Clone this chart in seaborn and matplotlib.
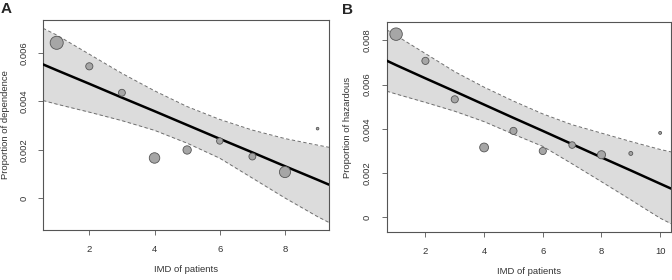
import seaborn as sns
import matplotlib.pyplot as plt
import pandas as pd

# Panel A: dependence
imd_a = [1, 2, 3, 4, 5, 6, 7, 8, 9]
dep_prop = [0.00641, 0.00544, 0.00435, 0.00166, 0.00199, 0.00236, 0.00172, 0.00108, 0.00287]
dep_n = [177, 53, 49, 114, 72, 42, 49, 128, 7]

# fitted line and 95% band for A, read at these IMD positions
grid_a = [0.58, 1, 2, 3, 4, 5, 6, 7, 8, 9, 9.35]
fit_a = [0.00552, 0.00528, 0.00472, 0.00415, 0.00359, 0.00302, 0.00245, 0.00189, 0.00132, 0.00076, 0.00056]
upper_a = [0.00701, 0.00673, 0.00594, 0.00515, 0.00443, 0.00378, 0.00325, 0.00281, 0.00246, 0.00219, 0.00210]
lower_a = [0.00403, 0.00388, 0.00355, 0.00320, 0.00280, 0.00227, 0.00165, 0.00083, 0.00001, -0.00076, -0.00100]

# Panel B: hazardous
imd_b = [1, 2, 3, 4, 5, 6, 7, 8, 9, 10]
haz_prop = [0.00828, 0.00707, 0.00533, 0.00315, 0.00390, 0.00299, 0.00326, 0.00282, 0.00288, 0.00381]
haz_n = [161, 53, 53, 81, 53, 53, 45, 69, 16, 9]

grid_b = [0.68, 1, 2, 3, 4, 5, 6, 7, 8, 9, 10, 10.37]
fit_b = [0.00708, 0.00688, 0.00628, 0.00569, 0.00509, 0.00449, 0.00390, 0.00330, 0.00270, 0.00211, 0.00151, 0.00129]
upper_b = [0.00848, 0.00822, 0.00740, 0.00658, 0.00588, 0.00525, 0.00467, 0.00418, 0.00380, 0.00342, 0.00306, 0.00295]
lower_b = [0.00570, 0.00557, 0.00519, 0.00479, 0.00432, 0.00375, 0.00320, 0.00241, 0.00160, 0.00078, -0.00005, -0.00030]

sns.set_style("white")
plt.rcParams['font.family'] = ['Liberation Sans', 'DejaVu Sans']

fig = plt.figure(figsize=(6.72, 2.8), dpi=100)


def panel(ax, x, y, n, grid, fit, up, lo, xlim, ylim, yticks, xticks, ylabel, ylab_x):
    ax.fill_between(grid, lo, up, color="#dcdcdc", lw=0, zorder=1)
    band = pd.DataFrame({"x": grid, "fit": fit, "up": up, "lo": lo})
    for col in ["up", "lo"]:
        sns.lineplot(data=band, x="x", y=col, ax=ax, color="#6e6e6e", lw=0.7,
                     linestyle=(0, (3.5, 2.5)), zorder=2)
    sns.lineplot(data=band, x="x", y="fit", ax=ax, color="black", lw=1.8, zorder=3)
    pts = pd.DataFrame({"x": x, "y": y, "n": n})
    sns.scatterplot(data=pts, x="x", y="y", size="n",
                    sizes=(min(n) / 2.0, max(n) / 2.0), color="#a6a6a6",
                    edgecolor="#555555", linewidth=0.6, legend=False, ax=ax, zorder=4)
    ax.set_xlim(*xlim)
    ax.set_ylim(*ylim)
    ax.set_xticks(xticks)
    ax.set_yticks(yticks)
    ax.set_yticklabels(["0" if t == 0 else f"{t:.3f}" for t in yticks],
                       rotation=90, va="center")
    ax.tick_params(axis="both", direction="out", length=3.5, width=0.6,
                   color="#555555", labelsize=6.8, labelcolor="#333333", pad=7,
                   bottom=True, left=True)
    for s in ax.spines.values():
        s.set_color("#555555")
        s.set_linewidth(0.8)
    ax.set_xlabel("IMD of patients", fontsize=6.8, color="#333333")
    ax.set_ylabel(ylabel, fontsize=6.8, color="#333333")
    ax.xaxis.set_label_coords(0.5, -0.165)
    ax.yaxis.set_label_coords(ylab_x, 0.5)


ax_a = fig.add_axes([43 / 672, 1 - 230 / 280, 286 / 672, 210 / 280])
panel(ax_a, imd_a, dep_prop, dep_n, grid_a, fit_a, upper_a, lower_a,
      (0.58, 9.35), (-0.00131, 0.00735), [0, 0.002, 0.004, 0.006], [2, 4, 6, 8],
      "Proportion of dependence", -0.116)

ax_b = fig.add_axes([386.7 / 672, 1 - 232.3 / 280, 284.3 / 672, 210.3 / 280])
panel(ax_b, imd_b, haz_prop, haz_n, grid_b, fit_b, upper_b, lower_b,
      (0.68, 10.37), (-0.00069, 0.00883), [0, 0.002, 0.004, 0.006, 0.008],
      [2, 4, 6, 8, 10], "Proportion of hazardous", -0.122)

fig.text(1 / 672, 1 - 2 / 280, "A", fontsize=11, fontweight="bold", va="top", ha="left")
fig.text(342 / 672, 1 - 3 / 280, "B", fontsize=11, fontweight="bold", va="top", ha="left")

fig.savefig("out.png", dpi=100)
